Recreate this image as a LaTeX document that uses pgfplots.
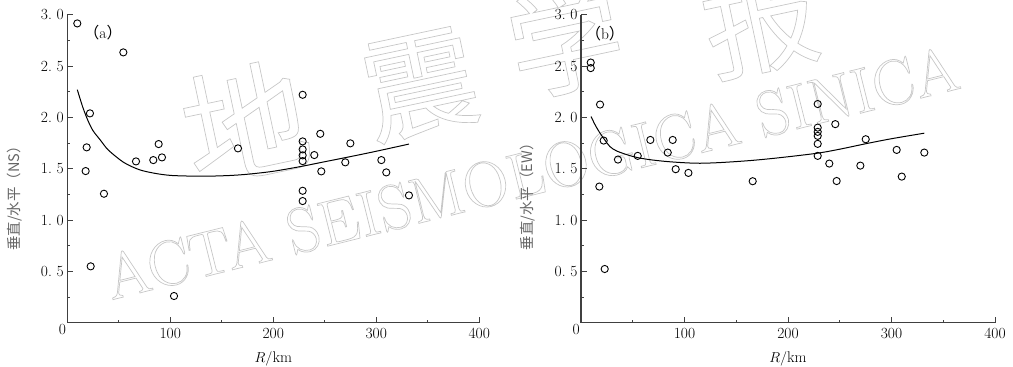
\documentclass[border=0pt]{standalone}
\usepackage{fontspec}
\usepackage{pgfplots}
\pgfplotsset{compat=1.18}
\newfontfamily\cjk{Noto Sans CJK SC}

% hollow (outlined) lettering for the journal mark
\newcommand\hollow[1]{\special{pdf:literal direct 1 Tr 0.7 w}#1\special{pdf:literal direct 0 Tr}}
\newcommand\lbl{\fontsize{15.5}{18}\selectfont}

\pgfplotsset{
  panel/.style={
    scale only axis, height=308pt,
    xmin=0, xmax=400, ymin=0, ymax=3,
    axis x line=bottom, axis y line=left,
    axis line style={-, black!75, line width=1.2pt},
    tick style={black!75, line width=1pt},
    tick align=inside,
    major tick length=5.5pt, minor tick length=3pt,
    xtick={0,100,200,300,400}, xticklabels={,100,200,300,400},
    minor x tick num=1,
    ytick={0,0.5,1,1.5,2,2.5,3},
    yticklabels={,0.\ 5,1.\ 0,1.\ 5,2.\ 0,2.\ 5,3.\ 0},
    minor y tick num=1,
    tick label style={font=\lbl, text=black},
    xticklabel style={yshift=-2pt},
    xlabel={$R/$km},
    xlabel style={at={(axis description cs:0.5,0)}, anchor=base, yshift=-40pt,
      font=\lbl, text=black},
    ylabel style={anchor=center, font=\fontsize{14.5}{17}\selectfont, text=black!60},
    clip=false,
  },
  pts/.style={only marks, mark=o, mark size=3.6pt, mark options={line width=0.9pt, black}},
  fit/.style={black, line width=1pt, smooth, no marks},
}

\begin{document}
\begin{tikzpicture}
\useasboundingbox (-67.3pt,-44.3pt) rectangle (945.7pt,322.7pt);

% journal watermark
\begin{scope}[black!22]
  \node[rotate=14, anchor=base, font=\fontsize{64}{64}\selectfont] at (469.7pt,128.7pt)
    {\hollow{ACTA SEISMOLOGICA SINICA}};
  \node[rotate=12, font=\cjk\fontsize{125}{125}\selectfont] at (177.7pt,200.7pt) {\hollow{地}};
  \node[rotate=12, font=\cjk\fontsize{115}{115}\selectfont] at (352.7pt,237.7pt) {\hollow{震}};
  \node[rotate=12, font=\cjk\fontsize{115}{115}\selectfont] at (497.7pt,282.7pt) {\hollow{学}};
  \node[rotate=12, font=\cjk\fontsize{115}{115}\selectfont] at (692.7pt,302.7pt) {\hollow{报}};
\end{scope}

% (a) NS component
\begin{axis}[panel, width=412pt, ylabel={\cjk 垂直/水平（NS）},
    ylabel style={at={(axis description cs:-0.129,0.415)}}]
  \addplot[pts] coordinates {
    (9.7,2.915) (54.4,2.633) (22.0,2.039) (18.8,1.708) (17.8,1.477)
    (66.7,1.571) (83.5,1.584) (88.7,1.740) (91.9,1.610) (165.7,1.698)
    (35.6,1.256) (22.7,0.549) (103.6,0.260)
    (228.5,2.220) (245.6,1.840) (228.5,1.766) (228.5,1.688) (228.5,1.630)
    (228.5,1.574) (239.8,1.633) (274.8,1.747) (246.6,1.474) (269.9,1.562)
    (304.9,1.584) (309.7,1.464) (228.5,1.285) (228.5,1.185) (331.7,1.240)
  };
  \addplot[fit] coordinates {
    (9.7,2.27) (15,2.10) (20,1.97) (25,1.87) (32,1.78) (40,1.68) (55,1.56)
    (70,1.49) (85,1.455) (100,1.435) (120,1.428) (140,1.428) (160,1.435)
    (177,1.448) (200,1.475) (226,1.52) (250,1.568) (274.5,1.617) (300,1.67)
    (331.7,1.74)
  };
  \node[font=\lbl, text=black] at (axis cs:34.7,2.83) {{\cjk （}a{\cjk ）}};
  \node[anchor=north east, inner sep=1pt, font=\lbl, text=black]
    at (rel axis cs:0,0) {0};
\end{axis}

% (b) EW component
\begin{axis}[panel, width=414pt, xshift=513.7pt, ylabel={\cjk 垂直/水平（EW）},
    ylabel style={at={(axis description cs:-0.13,0.42)}}]
  \addplot[pts] coordinates {
    (9.4,2.534) (9.4,2.480) (18.4,2.125) (21.9,1.774) (35.7,1.589)
    (54.8,1.625) (67.0,1.780) (83.8,1.657) (88.6,1.780) (91.5,1.495)
    (103.8,1.459) (17.7,1.326) (22.9,0.523) (165.9,1.378)
    (228.7,2.130) (245.7,1.934) (228.7,1.900) (228.7,1.859) (228.7,1.820)
    (228.7,1.742) (275.1,1.787) (305.0,1.683) (331.7,1.657) (228.7,1.625)
    (239.9,1.550) (269.9,1.530) (309.9,1.423) (247.0,1.380)
  };
  \addplot[fit] coordinates {
    (9.7,2.008) (14,1.92) (18.4,1.846) (23,1.78) (28,1.715) (35,1.67)
    (50.5,1.618) (65,1.59) (82.8,1.57) (100,1.558) (115,1.553) (135,1.56)
    (163,1.579) (190,1.605) (227.7,1.65) (250,1.69) (276,1.745) (300,1.792)
    (331.7,1.846)
  };
  \node[font=\lbl, text=black] at (axis cs:23.2,2.82) {{\cjk （}b{\cjk ）}};
  \node[anchor=north east, inner sep=1pt, font=\lbl, text=black]
    at (rel axis cs:0,0) {0};
\end{axis}
\end{tikzpicture}
\end{document}
